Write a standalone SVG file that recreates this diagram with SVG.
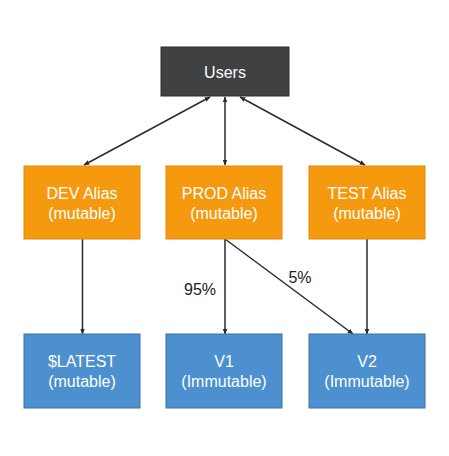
<svg xmlns="http://www.w3.org/2000/svg" width="449" height="456" viewBox="0 0 449 456">
<style>
  .t { font-family: "Liberation Sans", Arial, sans-serif; font-size: 16px; fill: #ffffff; text-anchor: middle; }
  .lbl { font-family: "Liberation Sans", Arial, sans-serif; font-size: 16px; fill: #222222; text-anchor: middle; }
  .dark { fill: #3f4143; stroke: #2b2d2f; stroke-width: 1; }
  .orange { fill: #f5990f; stroke: #e08a0a; stroke-width: 1; }
  .blue { fill: #4d90d0; stroke: #3b72a8; stroke-width: 1; }
  .c { stroke: #2b2b2b; stroke-width: 1.5; fill: none; }
</style>
<defs>
  <marker id="ah" viewBox="0 0 10 10" refX="9" refY="5" markerWidth="6" markerHeight="6" orient="auto-start-reverse" markerUnits="userSpaceOnUse">
    <path d="M0,1 L10,5 L0,9 z" fill="#2b2b2b"/>
  </marker>
</defs>
<rect width="449" height="456" fill="#ffffff"/>
<g id="connectors">
  <line class="c" x1="210" y1="97" x2="84" y2="165" marker-start="url(#ah)" marker-end="url(#ah)"/>
  <line class="c" x1="225" y1="97" x2="225" y2="165" marker-start="url(#ah)" marker-end="url(#ah)"/>
  <line class="c" x1="240" y1="97" x2="365" y2="165" marker-start="url(#ah)" marker-end="url(#ah)"/>
  <line class="c" x1="82.5" y1="239" x2="82.5" y2="334" marker-end="url(#ah)"/>
  <line class="c" x1="225" y1="239" x2="225" y2="334" marker-end="url(#ah)"/>
  <line class="c" x1="225" y1="239" x2="353" y2="334" marker-end="url(#ah)"/>
  <line class="c" x1="367" y1="239" x2="367" y2="334" marker-end="url(#ah)"/>
  <text class="lbl" x="200" y="295">95%</text>
  <text class="lbl" x="300" y="283">5%</text>
</g>
<g id="users">
  <rect class="dark" x="161" y="47" width="128" height="49"/>
  <text class="t" x="225" y="78">Users</text>
</g>
<g id="dev-alias">
  <rect class="orange" x="24" y="166" width="116" height="73"/>
  <text class="t" x="82" y="199">DEV Alias</text>
  <text class="t" x="82" y="219">(mutable)</text>
</g>
<g id="prod-alias">
  <rect class="orange" x="166" y="166" width="116" height="73"/>
  <text class="t" x="224" y="199">PROD Alias</text>
  <text class="t" x="224" y="219">(mutable)</text>
</g>
<g id="test-alias">
  <rect class="orange" x="309" y="166" width="116" height="73"/>
  <text class="t" x="367" y="199">TEST Alias</text>
  <text class="t" x="367" y="219">(mutable)</text>
</g>
<g id="latest">
  <rect class="blue" x="24" y="334" width="116" height="74"/>
  <text class="t" x="82" y="367">$LATEST</text>
  <text class="t" x="82" y="387">(mutable)</text>
</g>
<g id="v1">
  <rect class="blue" x="166" y="334" width="116" height="74"/>
  <text class="t" x="224" y="367">V1</text>
  <text class="t" x="224" y="387">(Immutable)</text>
</g>
<g id="v2">
  <rect class="blue" x="309" y="334" width="116" height="74"/>
  <text class="t" x="367" y="367">V2</text>
  <text class="t" x="367" y="387">(Immutable)</text>
</g>
</svg>
